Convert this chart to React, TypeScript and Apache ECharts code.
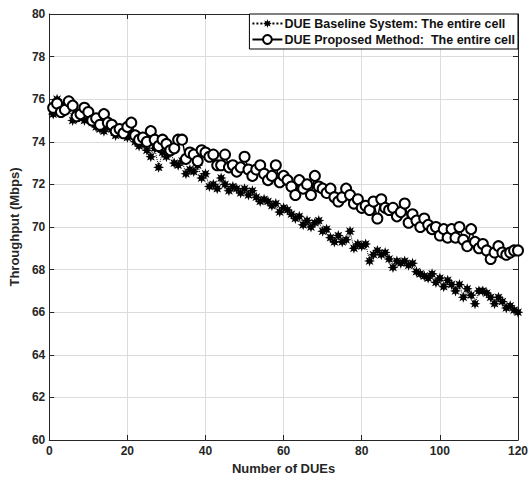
import React, { useEffect, useRef } from "react";
import * as echarts from "echarts";

const xValues: number[] = Array.from({ length: 120 }, (_, i) => i + 1);

const baseline: number[] = [
  75.3, 76.0, 75.7, 75.5, 75.7, 75.0, 75.1, 75.3, 75.0, 75.2,
  74.9, 74.7, 74.6, 74.5, 74.7, 74.6, 74.3, 74.5, 74.4, 74.2,
  74.4, 74.0, 73.8, 73.9, 73.6, 73.3, 73.7, 72.8, 73.5, 73.3,
  73.6, 73.0, 72.9, 73.1, 72.5, 72.7, 72.6, 72.9, 72.3, 72.5,
  71.9, 72.0, 71.8, 72.3, 72.0, 71.7, 71.9, 71.8, 71.6, 71.8,
  71.5, 71.7, 71.4, 71.2, 71.3, 71.2, 71.0, 71.1, 70.7, 70.9,
  70.8, 70.6, 70.4, 70.5, 70.1, 70.3, 70.0, 70.2, 70.3, 69.8,
  69.9, 69.5, 69.3, 69.6, 69.3, 69.4, 69.8, 69.0, 69.2, 69.1,
  69.2, 68.4, 68.7, 68.9, 68.7, 68.8, 68.5, 68.1, 68.4, 68.3,
  68.4, 68.2, 68.3, 67.9, 67.8, 67.7, 67.6, 67.8, 67.4, 67.6,
  67.2, 67.5, 67.3, 67.0, 67.3, 66.7, 67.1, 66.8, 66.4, 67.0,
  67.0, 66.9, 66.7, 66.4, 66.7, 66.5, 66.2, 66.3, 66.1, 66.0,
];

const proposed: number[] = [
  75.6, 75.8, 75.4, 75.5, 75.9, 75.7, 75.2, 75.3, 75.6, 75.4,
  75.0, 75.1, 74.8, 75.3, 74.9, 74.8, 74.5, 74.6, 74.4, 74.7,
  74.9, 74.3, 74.1, 74.2, 74.0, 74.5, 74.1, 73.8, 74.1, 73.9,
  73.6, 73.7, 74.1, 74.1, 73.2, 73.5, 73.4, 73.1, 73.6, 73.5,
  73.3, 73.4, 72.9, 72.9, 73.4, 72.8, 72.9, 72.6, 72.8, 73.3,
  72.7, 72.4, 72.7, 72.9, 72.5, 72.2, 72.4, 72.9, 72.1, 72.4,
  72.2, 71.9, 71.5, 72.2, 71.8, 72.0, 71.5, 72.4, 71.9, 71.8,
  71.6, 71.8, 71.4, 71.2, 71.4, 71.8, 71.5, 71.1, 71.3, 70.9,
  71.0, 70.8, 71.2, 70.4, 71.3, 70.9, 70.8, 70.9, 70.5, 70.7,
  71.1, 70.2, 70.6, 70.3, 70.0, 70.4, 70.1, 69.9, 70.0, 69.6,
  69.9, 69.5, 69.9, 69.5, 70.0, 69.4, 69.1, 69.9, 69.3, 69.0,
  69.2, 68.9, 68.5, 68.8, 69.1, 68.8, 68.7, 68.8, 68.9, 68.9,
];

const seriesNames: string[] = [
  "DUE Baseline System: The entire cell",
  "DUE Proposed Method:  The entire cell",
];

const STAR =
  "path://M20 10 L14.6 11.9 L17.07 17.07 L11.9 14.6 L10 20 L8.1 14.6 L2.93 17.07 L5.4 11.9 L0 10 L5.4 8.1 L2.93 2.93 L8.1 5.4 L10 0 L11.9 5.4 L17.07 2.93 L14.6 8.1 Z";

const FONT = "Liberation Sans, Arial, sans-serif";

export default function App() {
  const ref = useRef<HTMLDivElement>(null);

  useEffect(() => {
    if (!ref.current) return;
    const chart = echarts.init(ref.current, undefined, { renderer: "svg" });
    const axisLabel = { color: "#262626", fontSize: 12, fontWeight: "bold" as const, fontFamily: FONT };
    const gridLine = { show: true, lineStyle: { color: "#dcdcdc", width: 1 } };
    chart.setOption({
      animation: false,
      backgroundColor: "#fff",
      grid: { left: 44, right: 13, top: 14, bottom: 40, containLabel: false },
      legend: {
        orient: "vertical",
        right: 13,
        top: 14,
        data: seriesNames,
        backgroundColor: "#fff",
        borderColor: "#000",
        borderWidth: 1,
        borderRadius: 0,
        padding: [3, 3, 3, 2],
        itemGap: 3,
        itemWidth: 30,
        itemHeight: 11,
        textStyle: { color: "#111", fontSize: 12.5, fontWeight: "bold", fontFamily: FONT, padding: [0, 0, 0, -3] },
      },
      xAxis: [
        {
          type: "value",
          min: 0,
          max: 120,
          interval: 20,
          name: "Number of DUEs",
          nameLocation: "middle",
          nameGap: 18,
          nameTextStyle: { color: "#262626", fontSize: 13, fontWeight: "bold", fontFamily: FONT },
          axisLine: { show: true, onZero: false, lineStyle: { color: "#262626", width: 1 } },
          axisTick: { show: true, inside: true, length: 5, lineStyle: { color: "#262626" } },
          axisLabel: { ...axisLabel, margin: 5 },
          splitLine: gridLine,
        },
        {
          type: "value",
          position: "top",
          min: 0,
          max: 120,
          interval: 20,
          axisLine: { show: true, onZero: false, lineStyle: { color: "#262626", width: 1 } },
          axisTick: { show: true, inside: true, length: 5, lineStyle: { color: "#262626" } },
          axisLabel: { show: false },
          splitLine: { show: false },
        },
      ],
      yAxis: [
        {
          type: "value",
          min: 60,
          max: 80,
          interval: 2,
          name: "Throughput (Mbps)",
          nameLocation: "middle",
          nameGap: 24,
          nameTextStyle: { color: "#262626", fontSize: 13, fontWeight: "bold", fontFamily: FONT },
          axisLine: { show: true, onZero: false, lineStyle: { color: "#262626", width: 1 } },
          axisTick: { show: true, inside: true, length: 5, lineStyle: { color: "#262626" } },
          axisLabel: { ...axisLabel, margin: 4 },
          splitLine: gridLine,
        },
        {
          type: "value",
          position: "right",
          min: 60,
          max: 80,
          interval: 2,
          axisLine: { show: true, onZero: false, lineStyle: { color: "#262626", width: 1 } },
          axisTick: { show: true, inside: true, length: 5, lineStyle: { color: "#262626" } },
          axisLabel: { show: false },
          splitLine: { show: false },
        },
      ],
      series: [
        {
          name: seriesNames[0],
          type: "line",
          data: xValues.map((x, i) => [x, baseline[i]]),
          symbol: STAR,
          symbolSize: 11,
          showAllSymbol: true,
          itemStyle: { color: "#000" },
          lineStyle: { color: "#000", width: 1, type: "dotted" },
          z: 2,
        },
        {
          name: seriesNames[1],
          type: "line",
          data: xValues.map((x, i) => [x, proposed[i]]),
          symbol: "circle",
          symbolSize: 10,
          showAllSymbol: true,
          itemStyle: { color: "#fff", borderColor: "#000", borderWidth: 2 },
          lineStyle: { color: "#000", width: 1.5 },
          z: 3,
        },
      ],
    });
    return () => chart.dispose();
  }, []);

  return <div ref={ref} style={{ width: 531, height: 480, position: "fixed", left: 0, top: 0 }} />;
}
